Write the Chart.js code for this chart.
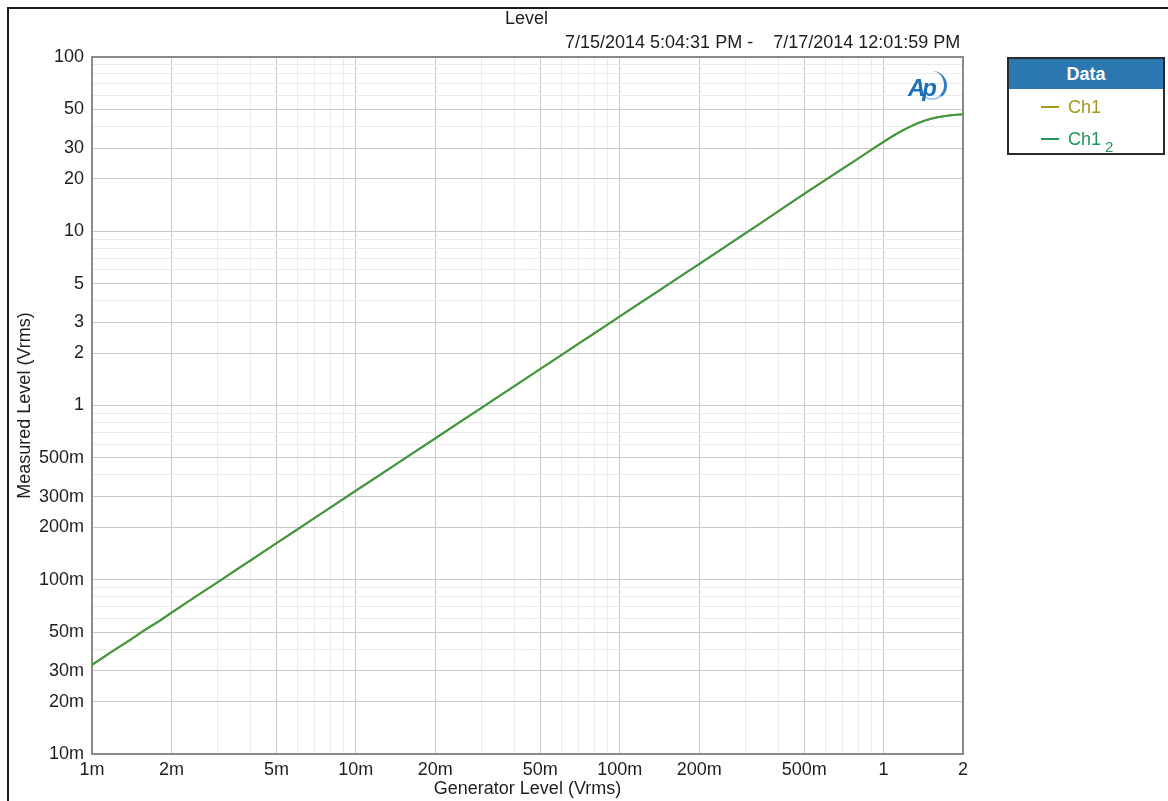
<!DOCTYPE html>
<html>
<head>
<meta charset="utf-8">
<title>Level</title>
<script src="https://cdn.jsdelivr.net/npm/chart.js@4.4.1/dist/chart.umd.min.js"></script>
<style>
  html, body { margin: 0; padding: 0; background: #ffffff; }
  body { width: 1168px; height: 801px; position: relative; overflow: hidden;
         font-family: "Liberation Sans", Arial, sans-serif; color: #1e1e1e; }
  #frame { position: absolute; left: 7px; top: 7px; right: -4px; bottom: -4px;
           border-left: 2px solid #1a1a1a; border-top: 2px solid #1a1a1a; }
  #chart { position: absolute; left: 0; top: 0; }
  .txt { position: absolute; white-space: pre; font-size: 18px; line-height: 20px; }
  #title { left: 505px; top: 8px; }
  #dates { left: 565px; top: 32px; }
  #logo { position: absolute; left: 906px; top: 71px; width: 44px; height: 32px; }
  #logo .ap { position: absolute; left: 2px; top: 3px; font: italic bold 24px "Liberation Sans", Arial, sans-serif;
              color: #1f6fb8; letter-spacing: -3px; }
  #logo .arc { position: absolute; left: 12px; top: 0px; width: 29px; height: 29px; border-radius: 50%;
               border-right: 3px solid #2f7fc6; border-bottom: 2px solid #a9cdec; box-sizing: border-box; }
  #legend { position: absolute; left: 1007px; top: 57px; width: 158px; height: 98px;
            border: 2px solid #2a2a2a; box-sizing: border-box; background: #fff; }
  #legend .head { height: 30px; background: #2b78b0; color: #fff; font: bold 18px "Liberation Sans", Arial, sans-serif;
                  text-align: center; line-height: 30px; }
  #legend .item { position: absolute; left: 32px; font-size: 18px; line-height: 20px; }
  #legend .item .ln { display: inline-block; width: 18px; height: 0; border-top: 2px solid; vertical-align: middle;
                      margin-right: 9px; position: relative; top: -1px; }
  #legend sub { font-size: 15px; vertical-align: -7px; margin-left: 4px; }
</style>
</head>
<body>
<div id="frame"></div>
<canvas id="chart" width="1168" height="801"></canvas>
<div class="txt" id="title">Level</div>
<div class="txt" id="dates">7/15/2014 5:04:31 PM -    7/17/2014 12:01:59 PM</div>
<div id="logo"><div class="arc"></div><span class="ap">Ap</span></div>
<div id="legend">
  <div class="head">Data</div>
  <div class="item" style="top:38px; color:#a29a16;"><span class="ln" style="border-color:#a29a16;"></span>Ch1</div>
  <div class="item" style="top:70px; color:#21955a;"><span class="ln" style="border-color:#21955a;"></span>Ch1<sub>2</sub></div>
</div>
<script>
// Generator sweep levels (Vrms)
const genLevel = [
  0.001, 0.0012, 0.0014, 0.0016, 0.0018, 0.002, 0.0025, 0.003, 0.0035, 0.004,
  0.005, 0.006, 0.007, 0.008, 0.01, 0.012, 0.014, 0.016, 0.018, 0.02,
  0.025, 0.03, 0.035, 0.04, 0.05, 0.06, 0.07, 0.08, 0.1, 0.12,
  0.14, 0.16, 0.18, 0.2, 0.25, 0.3, 0.35, 0.4, 0.5, 0.6,
  0.7, 0.8, 0.9, 1.0, 1.06, 1.12, 1.18, 1.25, 1.33, 1.42,
  1.5, 1.6, 1.7, 1.8, 1.9, 2.0
];

// Measured output level, Ch1 (Vrms)
const ch1Level = [
  0.0324, 0.0391, 0.0452, 0.0521, 0.0579, 0.0645, 0.0811, 0.0968, 0.1136, 0.1293,
  0.1624, 0.1941, 0.2272, 0.2590, 0.3250, 0.3885, 0.4540, 0.5180, 0.5838, 0.6475,
  0.8110, 0.9710, 1.136, 1.294, 1.622, 1.942, 2.272, 2.588, 3.245, 3.890,
  4.540, 5.180, 5.840, 6.485, 8.120, 9.760, 11.40, 13.05, 16.40, 19.65,
  22.90, 26.10, 29.40, 32.60, 34.50, 36.30, 37.90, 39.60, 41.40, 43.00,
  44.10, 45.10, 45.80, 46.30, 46.70, 47.00
];

// Measured output level, Ch1 2 (Vrms)
const ch1bLevel = [
  0.0325, 0.0390, 0.0454, 0.0519, 0.0581, 0.0647, 0.0809, 0.0971, 0.1133, 0.1296,
  0.1620, 0.1945, 0.2268, 0.2594, 0.3244, 0.3891, 0.4535, 0.5186, 0.5832, 0.6481,
  0.8104, 0.9722, 1.134, 1.297, 1.619, 1.946, 2.268, 2.592, 3.241, 3.894,
  4.536, 5.186, 5.834, 6.480, 8.114, 9.752, 11.38, 13.07, 16.37, 19.62,
  22.86, 26.06, 29.35, 32.55, 34.42, 36.22, 37.84, 39.55, 41.34, 42.95,
  44.06, 45.05, 45.76, 46.26, 46.66, 46.96
];

// Axis ticks: labelled values and their text
const xTickValues = [0.001, 0.002, 0.005, 0.01, 0.02, 0.05, 0.1, 0.2, 0.5, 1, 2];
const xTickLabels = ['1m', '2m', '5m', '10m', '20m', '50m', '100m', '200m', '500m', '1', '2'];
const yTickValues = [0.01, 0.02, 0.03, 0.05, 0.1, 0.2, 0.3, 0.5, 1, 2, 3, 5, 10, 20, 30, 50, 100];
const yTickLabels = ['10m', '20m', '30m', '50m', '100m', '200m', '300m', '500m', '1', '2', '3', '5', '10', '20', '30', '50', '100'];

// Every 1..9 step of each decade gets a grid line; labelled ones are drawn darker
function decadeSteps(lo, hi) {
  const out = [];
  for (let d = lo; d < hi * 1.0001; d *= 10) {
    for (let k = 1; k <= 9; k++) {
      const v = +(k * d).toPrecision(6);
      if (v <= hi * 1.0001) out.push(v);
    }
  }
  return out;
}
function labelFor(values, labels, v) {
  const i = values.findIndex(t => Math.abs(t - v) / v < 1e-6);
  return i >= 0 ? labels[i] : '';
}
const majorGrid = '#c9c9c9';
const minorGrid = '#ebebeb';

const tickFont = { family: '"Liberation Sans", Arial, sans-serif', size: 18 };

const frame = {
  id: 'plotFrame',
  beforeDatasetsDraw(chart) {
    const { ctx, chartArea: a } = chart;
    ctx.save();
    ctx.strokeStyle = '#8a8a8a';
    ctx.lineWidth = 2;
    ctx.strokeRect(a.left, a.top, a.right - a.left, a.bottom - a.top);
    ctx.restore();
  }
};

new Chart(document.getElementById('chart'), {
  type: 'line',
  data: {
    datasets: [
      {
        label: 'Ch1',
        data: genLevel.map((g, i) => ({ x: g, y: ch1Level[i] })),
        borderColor: '#a49a22',
        borderWidth: 2,
        pointRadius: 0,
        tension: 0,
        order: 2
      },
      {
        label: 'Ch1 2',
        data: genLevel.map((g, i) => ({ x: g, y: ch1bLevel[i] })),
        borderColor: '#3c9a48',
        borderWidth: 2,
        pointRadius: 0,
        tension: 0,
        order: 1
      }
    ]
  },
  options: {
    responsive: false,
    devicePixelRatio: 1,
    animation: false,
    layout: { padding: { left: 8, top: 57, right: 205, bottom: 0 } },
    plugins: { legend: { display: false }, tooltip: { enabled: false } },
    scales: {
      x: {
        type: 'logarithmic',
        min: 0.001,
        max: 2,
        afterFit(scale) { scale.height = 47; },
        afterBuildTicks(scale) { scale.ticks = decadeSteps(0.001, 2).map(v => ({ value: v })); },
        ticks: {
          autoSkip: false,
          maxRotation: 0,
          padding: 5,
          color: '#1e1e1e',
          font: tickFont,
          callback: v => labelFor(xTickValues, xTickLabels, v)
        },
        grid: {
          drawTicks: false,
          color: c => (c.tick && labelFor(xTickValues, xTickLabels, c.tick.value) ? majorGrid : minorGrid),
          lineWidth: 1
        },
        border: { display: false },
        title: {
          display: true,
          text: 'Generator Level (Vrms)',
          color: '#1e1e1e',
          font: tickFont,
          padding: { top: 0, bottom: 1 }
        }
      },
      y: {
        type: 'logarithmic',
        min: 0.01,
        max: 100,
        afterFit(scale) { scale.width = 84; },
        afterBuildTicks(scale) { scale.ticks = decadeSteps(0.01, 100).map(v => ({ value: v })); },
        ticks: {
          autoSkip: false,
          padding: 8,
          color: '#1e1e1e',
          font: tickFont,
          callback: v => labelFor(yTickValues, yTickLabels, v)
        },
        grid: {
          drawTicks: false,
          color: c => (c.tick && labelFor(yTickValues, yTickLabels, c.tick.value) ? majorGrid : minorGrid),
          lineWidth: 1
        },
        border: { display: false },
        title: {
          display: true,
          text: 'Measured Level (Vrms)',
          color: '#1e1e1e',
          font: tickFont,
          padding: { top: 6, bottom: 0 }
        }
      }
    }
  },
  plugins: [frame]
});
</script>
</body>
</html>
